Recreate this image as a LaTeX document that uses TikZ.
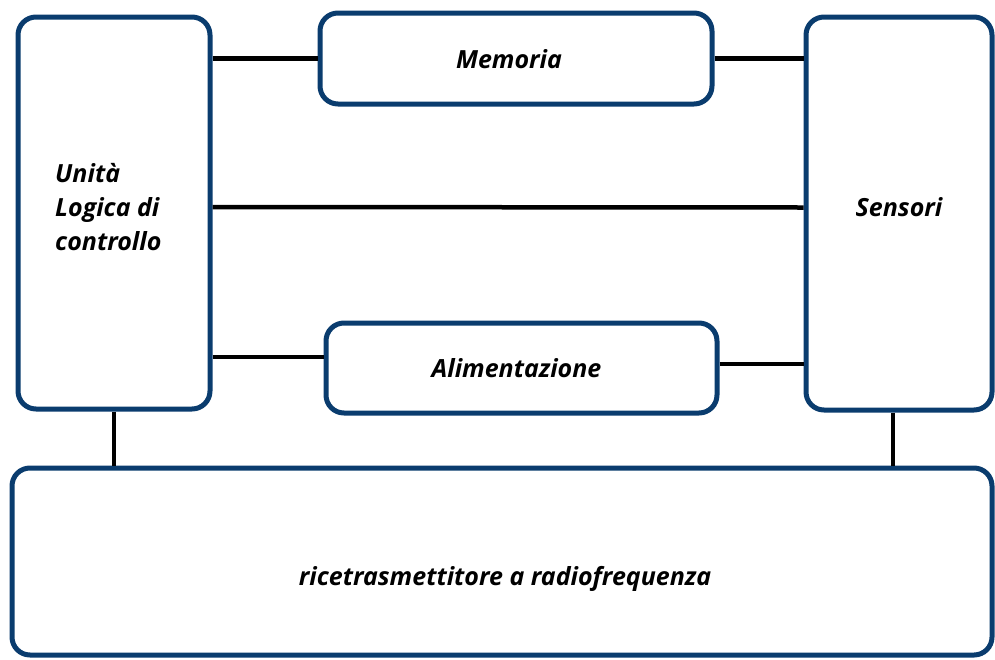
\documentclass[tikz,border=0pt]{standalone}
\usepackage{fontspec}
\setmainfont{Open Sans}
\definecolor{boxblue}{RGB}{10,60,110}
\tikzset{
  txt/.style={font=\fontsize{25}{34}\selectfont\bfseries\itshape},
  unit/.style={draw=boxblue, line width=5pt, rounded corners=18pt, fill=white,
    txt, inner sep=0pt},
  link/.style={draw=black, line width=4.5pt}
}
\begin{document}
\begin{tikzpicture}[x=1pt,y=-1pt]
  \useasboundingbox (0,0) rectangle (995,659);
  % component blocks
  \node[unit, minimum width=192pt, minimum height=392pt] (ctrl) at (114,213) {};
  \node[unit, minimum width=392pt, minimum height=91pt,
        label={[txt, xshift=-7pt, yshift=-1pt]center:Memoria}] (mem) at (516,58.5) {};
  \node[unit, minimum width=186pt, minimum height=393pt,
        label={[txt, yshift=6pt]center:Sensori}] (sens) at (899,213.5) {};
  \node[unit, minimum width=391pt, minimum height=90pt,
        label={[txt, xshift=-5pt]center:Alimentazione}] (alim) at (521.5,368) {};
  \node[unit, minimum width=980pt, minimum height=187pt,
        label={[txt, yshift=-17pt, xshift=3pt]center:ricetrasmettitore a radiofrequenza}] (rf) at (502,561.5) {};
  \node[txt, align=left, anchor=west, inner sep=0pt]
    (ctrllabel) at (55,207) {Unità\\Logica di\\controllo};
  % connections
  \draw[link] (mem.west -| ctrl.east) -- (mem.west);
  \draw[link] (mem.east) -- (mem.east -| sens.west);
  \draw[link] ([yshift=6pt]ctrl.east) -- ([yshift=6pt]sens.west);
  \draw[link] ([yshift=11pt]alim.west -| ctrl.east) -- ([yshift=11pt]alim.west);
  \draw[link] ([yshift=4pt]alim.east) -- ([yshift=4pt]alim.east -| sens.west);
  \draw[link] (ctrl.south) -- (ctrl.south |- rf.north);
  \draw[link] ([xshift=-6pt]sens.south) -- ([xshift=-6pt]sens.south |- rf.north);
\end{tikzpicture}
\end{document}
